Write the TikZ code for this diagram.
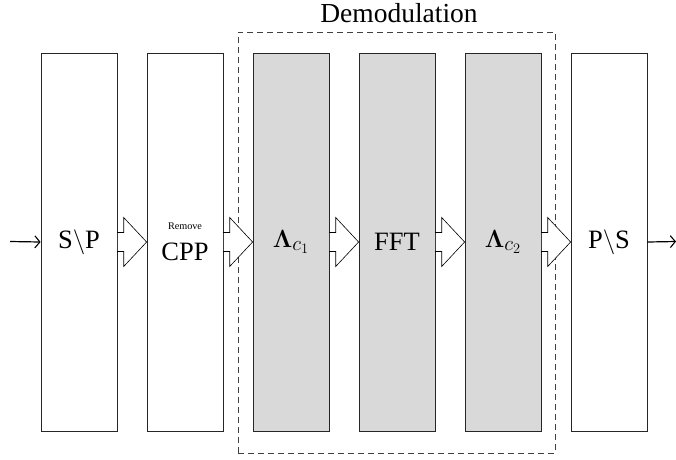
\documentclass[tikz,border=0pt]{standalone}
\usepackage[no-math]{fontspec}
\setmainfont{Liberation Serif}
\newfontfamily\timesfont{Liberation Serif}
\usepackage{amsmath}
\usetikzlibrary{calc,arrows.meta}
\tikzset{
  blk/.style={draw=black!85, line width=0.8pt, minimum width=76pt, minimum height=378pt, inner sep=0pt, font=\timesfont\fontsize{26.5}{31}\selectfont},
  gblk/.style={blk, fill=gray!30},
  mathblk/.style={gblk, font=\fontsize{30}{34}\selectfont},
  bigtxt/.style={font=\timesfont\fontsize{26.5}{31}\selectfont, inner sep=0pt},
  smalltxt/.style={font=\timesfont\fontsize{10.2}{12}\selectfont, inner sep=0pt},
  barrow/.style={draw=black, line width=0.6pt, fill=white, line join=miter},
  thinarrow/.style={-{Straight Barb[length=5pt,width=12pt,line width=1.1pt]}, line width=1.2pt},
  demobox/.style={draw=black!75, line width=0.8pt, dash pattern=on 6pt off 4pt}
}
\newcommand{\blockarrow}[2]{%
  \draw[barrow] ($(#1.east)+(0,-9.5)$) -- ++(6.3,0) -- ++(0,-15) -- (#2.west) -- ($(#1.east)+(6.3,24.5)$) -- ++(0,-15) -- ($(#1.east)+(0,9.5)$) -- cycle;}
\begin{document}
\begin{tikzpicture}[x=1pt,y=-1pt]
\useasboundingbox (0,0) rectangle (676,459);
\node[demobox, minimum width=317pt, minimum height=421pt, inner sep=0pt] (demo) at (396.5,242.5) {};
\node[bigtxt, font=\timesfont\fontsize{27.5}{32}\selectfont, anchor=base] (demolabel) at (399,22) {Demodulation};
\node[blk]  (sp)   at (79,242)  {S$\backslash$P};
\node[blk]  (rcpp) at (185,242) {};
\node[smalltxt, anchor=base] (remove) at (185,229.5) {Remove};
\node[bigtxt, anchor=base] (cpp) at (185,260) {CPP};
\node[mathblk] (l1)   at (291,242) {$\mathbf{\Lambda}_{c_1}$};
\node[gblk] (fft)  at (397,242) {FFT};
\node[mathblk] (l2)   at (503,242) {$\mathbf{\Lambda}_{c_2}$};
\node[blk]  (ps)   at (609,242) {P$\backslash$S};
\coordinate (in) at (10,241.5);
\coordinate (out) at (676,241.5);
\draw[thinarrow] (in) -- (sp.west);
\draw[thinarrow] (ps.east) -- (out);
\blockarrow{sp}{rcpp}
\blockarrow{rcpp}{l1}
\blockarrow{l1}{fft}
\blockarrow{fft}{l2}
\blockarrow{l2}{ps}
\end{tikzpicture}
\end{document}
